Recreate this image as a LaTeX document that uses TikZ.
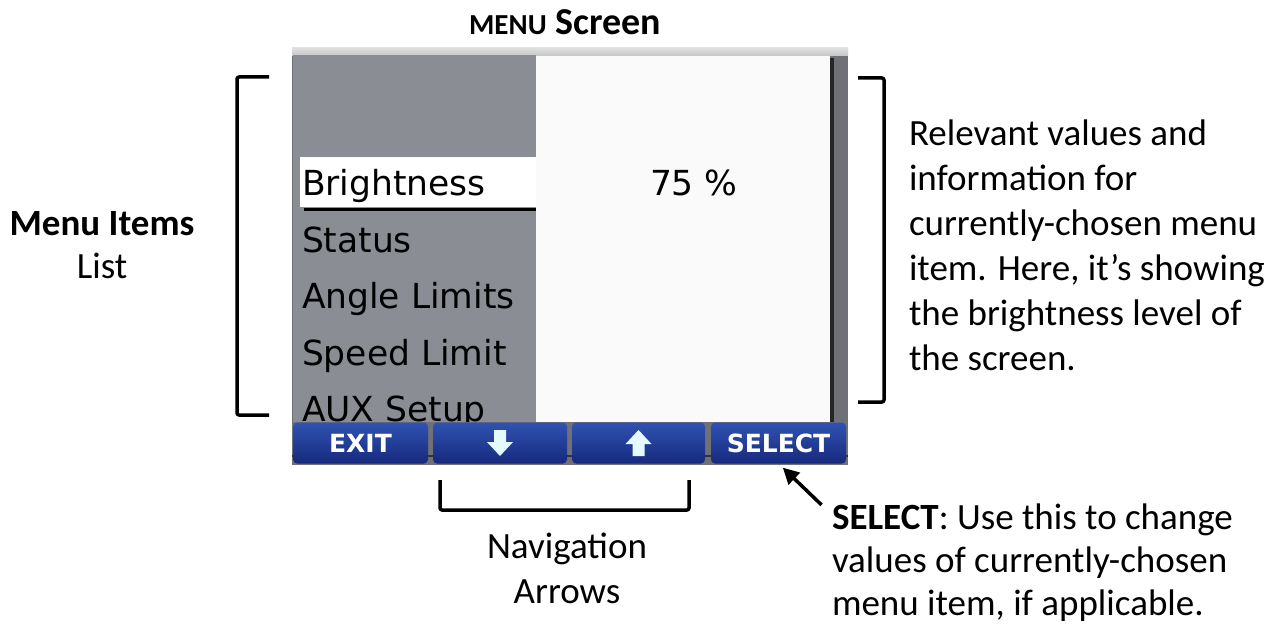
\documentclass[tikz,border=0pt]{standalone}
\usepackage{fontspec}
\setmainfont{Carlito}
\newfontfamily\lcdfont{DejaVu Sans}
\usetikzlibrary{positioning,arrows.meta}

\definecolor{panelgray}{RGB}{138,142,148}
\definecolor{panellight}{RGB}{166,169,174}
\definecolor{rimgray}{RGB}{112,113,118}
\definecolor{btntop}{RGB}{48,82,178}
\definecolor{btnbot}{RGB}{22,42,125}
\definecolor{arrowpale}{RGB}{228,250,255}

\begin{document}
\begin{tikzpicture}[x=1pt,y=-1pt,
  every node/.style={inner sep=0pt, outer sep=0pt},
  item/.style={anchor=base west, font=\lcdfont\fontsize{34.5}{34.5}\selectfont},
  button/.style={rounded corners=4pt, top color=btntop, bottom color=btnbot,
    minimum height=41pt, text=white, font=\lcdfont\bfseries\fontsize{25}{25}\selectfont},
  bracket/.style={line width=3.5pt, line join=round, rounded corners=2pt},
  note/.style={font=\fontsize{37}{45}\selectfont}]
\fill[white] (0,0) rectangle (1278,626);
\useasboundingbox (0,0) rectangle (1278,626);

\fill[rimgray] (292,48) rectangle (848,465);
\shade[top color=gray!25, bottom color=gray!45] (292,48) rectangle (848,56);
\shade[left color=panelgray, middle color=panellight, right color=panelgray] (293,56) rectangle (536,422);
\fill[white!98!black] (536,56) rectangle (830,422);
\fill[black!85] (830,58) rectangle (834,422);
\fill[white] (300,157) rectangle (536,207);
\draw[line width=3pt] (304,209) -- (536,209);

\begin{scope}
\clip (293,56) rectangle (536,422);
\node[item] (bright) at (302,195) {Brightness};
\node[item] (status) at (302,252) {Status};
\node[item] (angle) at (302,308) {Angle Limits};
\node[item] (speed) at (302,365) {Speed Limit};
\node[item] (aux) at (302,421) {AUX Setup};
\end{scope}
\node[item] (value) at (650,195) {75 \%};

\fill[rimgray] (292,422) rectangle (848,465);
\draw[black!80, line width=2pt] (292,456) -- (848,456);
\node[button, minimum width=135pt] (exit) at (360.5,443) {EXIT};
\node[button, minimum width=134pt] (down) at (500,443) {};
\node[button, minimum width=133pt] (up) at (638.5,443) {};
\node[button, minimum width=135pt] (select) at (778.5,443) {SELECT};
\fill[arrowpale, shift={(down.center)}] (-6,-13) -- (6,-13) -- (6,-1) -- (13,-1) -- (0,13) -- (-13,-1) -- (-6,-1) -- cycle;
\fill[arrowpale, shift={(up.center)}] (0,-13) -- (13,1) -- (6,1) -- (6,13) -- (-6,13) -- (-6,1) -- (-13,1) -- cycle;

\node[anchor=base, font=\bfseries\fontsize{38}{38}\selectfont] (title) at (565,35) {{\fontsize{29}{29}\selectfont MENU} Screen};

\node[anchor=base, font=\bfseries\fontsize{37}{37}\selectfont] (items) at (102,235) {Menu Items};
\node[anchor=base, note] (list) at (102,278) {List};
\draw[bracket] (269,77) -- (237,77) -- (237,415) -- (269,415);

\draw[bracket] (858,78) -- (884,78) -- (884,402) -- (858,402);
\node[note, anchor=base west] (info1) at (909,145) {Relevant values and};
\node[note, anchor=base west] (info2) at (909,190) {information for};
\node[note, anchor=base west] (info3) at (909,235) {currently-chosen menu};
\node[note, anchor=base west] (info4) at (909,280) {item. Here, it’s showing};
\node[note, anchor=base west] (info5) at (909,325) {the brightness level of};
\node[note, anchor=base west] (info6) at (909,370) {the screen.};

\draw[bracket] (440,480) -- (440,510) -- (689,510) -- (689,480);
\node[note, anchor=base] (nav1) at (567,558) {Navigation};
\node[note, anchor=base] (nav2) at (567,603) {Arrows};

\node[note, anchor=base west] (sel1) at (832,529) {\textbf{SELECT}: Use this to change};
\node[note, anchor=base west] (sel2) at (832,572) {values of currently-chosen};
\node[note, anchor=base west] (sel3) at (832,615) {menu item, if applicable.};
\draw[line width=3.5pt, -{Triangle[length=16pt,width=16pt]}, shorten <=2pt, shorten >=6pt] ([xshift=-9pt,yshift=-3pt]sel1.north west) -- (select.south);
\end{tikzpicture}
\end{document}
